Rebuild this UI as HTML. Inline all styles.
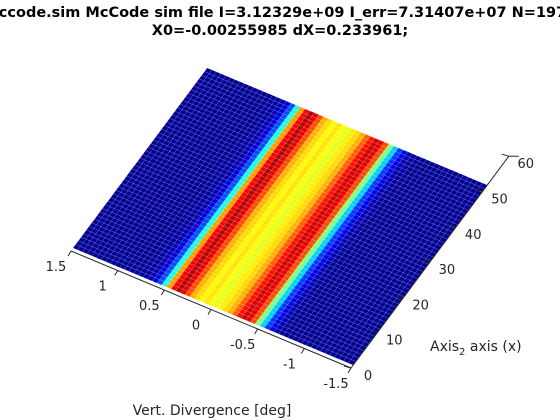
<!DOCTYPE html>
<html><head><meta charset="utf-8"><style>
html,body{margin:0;padding:0;background:#fff;overflow:hidden;}
svg{display:block;font-family:"DejaVu Sans","Liberation Sans",sans-serif;}
</style></head><body>
<svg id="chart" width="560" height="420" viewBox="0 0 560 420">
<g font-weight="bold" font-size="14.5" text-anchor="middle" fill="#000">
<text x="280" y="17">mccode.sim McCode sim file I=3.12329e+09 I_err=7.31407e+07 N=1979</text>
<text x="280" y="35">X0=-0.00255985 dX=0.233961;</text>
</g>
<g id="surface"></g>
<g id="axes" stroke="#262626" stroke-width="1" fill="none"></g>
<g id="labels" font-size="13" fill="#262626"></g>
<text x="212" y="415" font-size="14" fill="#262626" text-anchor="middle">Vert. Divergence [deg]</text>
<text x="430" y="351" font-size="14" fill="#262626">Axis<tspan font-size="10" dy="4">2</tspan><tspan dy="-4"> axis (x)</tspan></text>
</svg>
<script>
// x bins from +1.5 to -1.5 (60 bins), normalized intensity
const profile = [0.02,0.02,0.02,0.02,0.02,0.02,0.02,0.02,0.02,0.02,0.02,0.02,0.02,0.02,0.03,0.03,0.05,0.09,0.2,0.4,0.72,0.88,0.95,0.9,0.8,0.7,0.66,0.63,0.65,0.62,0.6,0.64,0.66,0.7,0.78,0.86,0.92,0.9,0.8,0.5,0.33,0.18,0.1,0.05,0.03,0.02,0.02,0.02,0.02,0.02,0.02,0.02,0.02,0.02,0.02,0.02,0.02,0.02,0.02,0.02];
const xTicks = [1.5,1,0.5,0,-0.5,-1,-1.5];
const xTickLabels = ["1.5","1","0.5","0","-0.5","-1","-1.5"];
const yTicks = [0,10,20,30,40,50,60];
const yTickLabels = ["0","10","20","30","40","50","60"];
const nRows = 50;
const xMin=-1.5, xMax=1.5, yMax=51;

function P(x,y){ return [353+(x+1.5)*-93.33+y*2.63, 365+(x+1.5)*-39-y*3.53]; }
function jet(v){
  v=Math.max(0,Math.min(1,v));
  const r=Math.max(0,Math.min(1,1.5-Math.abs(4*v-3)));
  const g=Math.max(0,Math.min(1,1.5-Math.abs(4*v-2)));
  const b=Math.max(0,Math.min(1,1.5-Math.abs(4*v-1)));
  return `rgb(${Math.round(r*255)},${Math.round(g*255)},${Math.round(b*255)})`;
}
const NS="http://www.w3.org/2000/svg";
const surf=document.getElementById('surface');
const nCols=profile.length, dx=(xMax-xMin)/nCols, dy=yMax/nRows;
for(let j=0;j<nRows;j++){
  for(let i=0;i<nCols;i++){
    const x0=xMax-i*dx, x1=x0-dx, y0=j*dy, y1=y0+dy;
    const pts=[P(x0,y0),P(x1,y0),P(x1,y1),P(x0,y1)].map(p=>p[0].toFixed(1)+","+p[1].toFixed(1)).join(" ");
    const el=document.createElementNS(NS,'polygon');
    
    
    el.setAttribute('points',pts);
    el.setAttribute('fill',jet(profile[i]));
    el.setAttribute('stroke','rgba(255,255,255,0.3)');
    el.setAttribute('stroke-width','0.4');
    surf.appendChild(el);
  }
}
const axesG=document.getElementById('axes'), labelsG=document.getElementById('labels');
function drawLine(a,b,name){
  const l=document.createElementNS(NS,'line');
  
  
  l.setAttribute('x1',a[0]);l.setAttribute('y1',a[1]);l.setAttribute('x2',b[0]);l.setAttribute('y2',b[1]);
  axesG.appendChild(l);
}
function drawText(x,y,s,name){
  const t=document.createElementNS(NS,'text');
  
  
  t.setAttribute('x',x);t.setAttribute('y',y);t.setAttribute('text-anchor','middle');
  t.textContent=s;labelsG.appendChild(t);
}
const axOff=[-2,3];
function PA(x,y){const p=P(x,y);return [p[0]+axOff[0],p[1]+axOff[1]];}
drawLine(PA(1.5,0),PA(-1.5,0),'x-axis-line');
drawLine(PA(-1.5,0),PA(-1.5,60),'y-axis-line');
const yEnd=PA(-1.5,60); drawLine(yEnd,[yEnd[0]+10,yEnd[1]],'y-axis-end-tick');
xTicks.forEach((v,k)=>{
  const p=PA(v,0);
  drawLine(p,[p[0]-3,p[1]+5],'x-tick');
  drawText(p[0]-15,p[1]+20,xTickLabels[k],'x-tick-label');
});
yTicks.forEach((v,k)=>{
  const p=PA(-1.5,v);
  drawLine(p,[p[0]-7,p[1]-2],'y-tick');
  drawText(p[0]+17,p[1]+12,yTickLabels[k],'y-tick-label');
});
</script>
</body></html>
